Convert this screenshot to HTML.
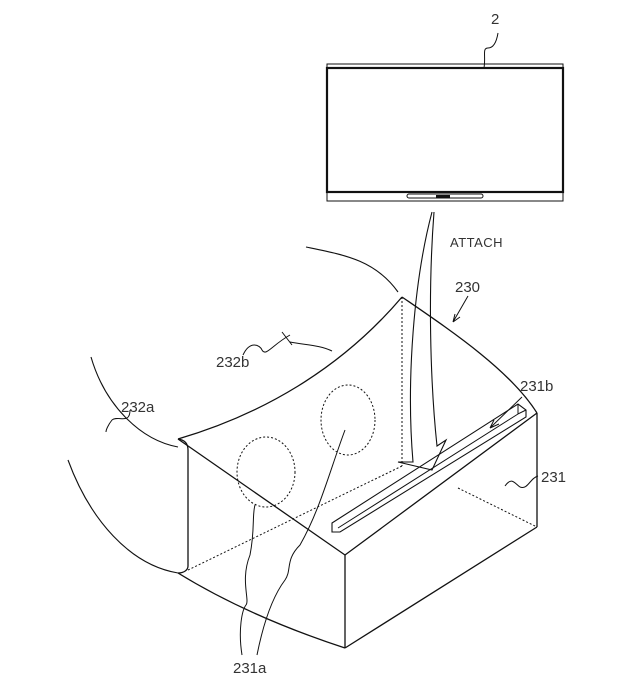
<!DOCTYPE html>
<html><head><style>
html,body{margin:0;padding:0;background:#fff;}
svg{display:block;}
text{font-family:"Liberation Sans",sans-serif;font-size:15px;fill:#333;stroke:none;}
</style></head><body>
<svg width="643" height="698" viewBox="0 0 643 698" fill="none" stroke="#111" stroke-width="1.3">
<!-- tablet -->
<rect x="327" y="64" width="236" height="137" stroke-width="1"/>
<line x1="327" y1="68" x2="563" y2="68" stroke-width="1.2"/>
<rect x="327" y="68" width="236" height="124" stroke-width="2.2"/>
<line x1="327" y1="192" x2="563" y2="192" stroke-width="1"/>
<rect x="407" y="194" width="76" height="4" rx="2" stroke-width="1"/>
<rect x="436" y="195" width="14" height="3" fill="#111" stroke="none"/>
<text x="491" y="24">2</text>
<path d="M498,33 C496,45 492,48 488,48 C482,48 486,56 484,68" stroke-width="1"/>
<!-- attach -->
<text x="450" y="247" style="font-size:13px;letter-spacing:0.5px">ATTACH</text>
<path d="M432,212 C414,280 406,380 413,462 L398,462 L432,470 L446,440 L437,446 C430,380 428,290 434,212" stroke-width="1.1"/>
<!-- 230 -->
<text x="455" y="292">230</text>
<path d="M468,296 L453,322 M453,322 L455,314 M453,322 L460,317" stroke-width="1"/>
<!-- strap top curve -->
<path d="M306,247 C345,255 375,260 398,292" stroke-width="1.1"/>
<!-- box top edges -->
<path d="M178,439 C260,415 340,370 402,297" />
<path d="M402,297 C450,330 510,370 537,413"/>
<path d="M178,439 L345,555 L537,413"/>
<line x1="345" y1="555" x2="345" y2="648"/>
<line x1="537" y1="413" x2="537" y2="527"/>
<line x1="345" y1="648" x2="537" y2="527"/>
<path d="M178,439 C186,440 188,445 188,450 L188,566 C188,570 184,573 178,573"/>
<path d="M178,573 C230,605 290,630 345,648"/>
<!-- strap 232a -->
<path d="M91,357 C105,405 140,440 178,447" stroke-width="1.1"/>
<path d="M68,460 C90,520 130,565 178,573" stroke-width="1.1"/>
<!-- dashed hidden -->
<g stroke-dasharray="2,2" stroke-width="1">
<line x1="402" y1="297" x2="402" y2="466"/>
<line x1="402" y1="466" x2="188" y2="570"/>
<line x1="458" y1="488" x2="537" y2="527"/>
<ellipse cx="266" cy="472" rx="29" ry="35"/>
<ellipse cx="348" cy="420" rx="27" ry="35"/>
</g>
<!-- slot -->
<path d="M332,523 L518,404 L526,410 L526,417 L340,532 L332,532 Z" stroke-width="1.1"/>
<path d="M338,528 L518,414 M518,404 L518,414 L526,410" stroke-width="1"/>
<!-- labels -->
<text x="216" y="367">232b</text>
<path d="M243,355 C250,340 260,345 262,350 C266,357 272,345 290,335 M282,332 L292,345 M290,342 C305,345 320,345 332,351" stroke-width="1"/>
<text x="121" y="412">232a</text>
<path d="M130,410 C130,425 118,415 112,420 C108,425 106,430 106,432" stroke-width="1"/>
<text x="520" y="391">231b</text>
<path d="M522,397 L490,428 M490,428 L499,424 M490,428 L494,420" stroke-width="1"/>
<text x="541" y="482">231</text>
<path d="M538,476 C530,478 528,490 520,487 C515,484 512,476 505,486" stroke-width="1"/>
<text x="233" y="673">231a</text>
<path d="M242,655 C238,630 242,610 246,605 C250,600 240,580 250,555 C255,530 252,515 255,505" stroke-width="1"/>
<path d="M257,655 C262,630 270,600 285,580 C292,570 285,560 300,545 C320,510 330,470 345,430" stroke-width="1"/>
</svg>
</body></html>
